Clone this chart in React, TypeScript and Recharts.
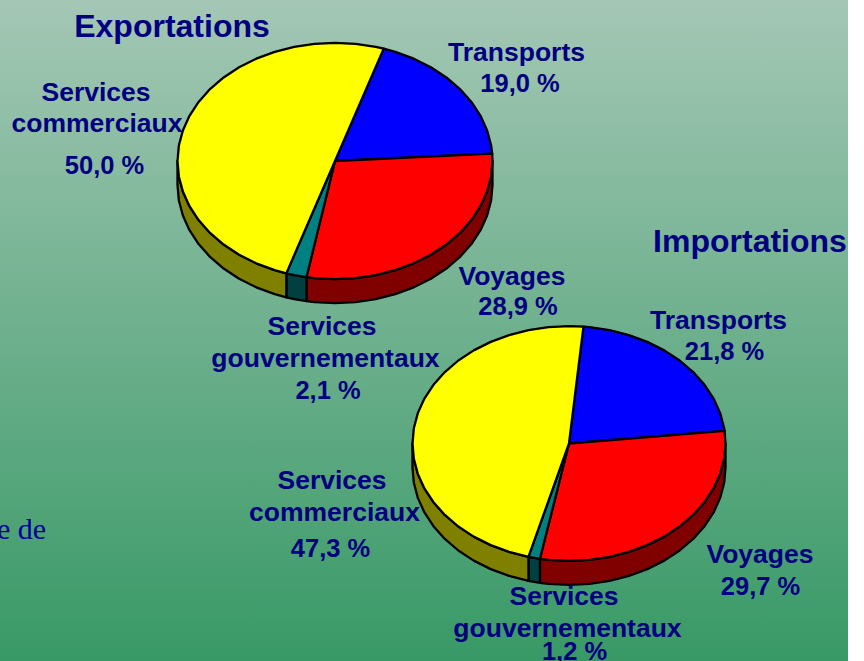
import React from 'react';
import { PieChart, Pie } from 'recharts';

const categories = ['Transports', 'Voyages', 'Services gouvernementaux', 'Services commerciaux'];
const exportValues = [19.0, 28.9, 2.1, 50.0];
const importValues = [21.8, 29.7, 1.2, 47.3];
const topColors = ['#0000ff', '#ff0000', '#008080', '#ffff00'];
const sideColors = ['#000080', '#800000', '#004040', '#808000'];
const titles = ['Exportations', 'Importations'];

const WIDTH = 848;
const HEIGHT = 661;
const TILT = 0.75;
const DEPTH = 24;
const FACET = 7.5;
const NAVY = '#000080';

// Label layout per category: [centre x, baseline y] for each line of text
const exportLayout = [
  { lines: [[516.5, 61], [520, 92]] },
  { lines: [[512, 285], [518, 315]] },
  { lines: [[322, 335], [325.5, 367], [328, 399]] },
  { lines: [[96, 101], [97, 132], [104.5, 174]] },
];
const importLayout = [
  { lines: [[718.5, 329], [724.5, 360]] },
  { lines: [[760, 563], [760.5, 595]] },
  { lines: [[564, 605], [567.5, 637], [574.5, 660]] },
  { lines: [[332, 489], [334.5, 521], [330.5, 557]] },
];

const buildRows = (values: number[]) =>
  categories.map((name, i) => ({ name, value: values[i] }));

const pt = (cx: number, cy: number, r: number, deg: number) => {
  const a = (deg * Math.PI) / 180;
  return [cx + r * Math.cos(a), cy - r * TILT * Math.sin(a)];
};

// Faceted outline between two angles (from > to), like the coarse curve of the original
const rim = (cx: number, cy: number, r: number, from: number, to: number) => {
  const out: number[][] = [pt(cx, cy, r, from)];
  let d = Math.floor(from / FACET) * FACET;
  if (d >= from) d -= FACET;
  for (; d > to; d -= FACET) out.push(pt(cx, cy, r, d));
  out.push(pt(cx, cy, r, to));
  return out;
};

const toPath = (points: number[][]) =>
  points.map((q, i) => `${i ? 'L' : 'M'}${q[0].toFixed(2)},${q[1].toFixed(2)}`).join('') + 'Z';

const TopSlice = (p: any) => {
  const { cx, cy, outerRadius: r, startAngle: s, endAngle: e, index } = p;
  return (
    <path
      d={toPath([[cx, cy], ...rim(cx, cy, r, s, e)])}
      fill={topColors[index]}
      stroke="#000"
      strokeWidth={2.3}
      strokeLinejoin="round"
    />
  );
};

const SideSlice = (p: any) => {
  const { cx, cy, outerRadius: r, startAngle: s, endAngle: e, index } = p;
  const a = Math.min(s, 0);
  const b = Math.max(e, -180);
  if (a <= b) return <g />;
  const upper = rim(cx, cy, r, a, b);
  const lower = upper.map((q) => [q[0], q[1] + DEPTH]).reverse();
  return (
    <path
      d={toPath([...upper, ...lower])}
      fill={sideColors[index]}
      stroke="#000"
      strokeWidth={2.3}
      strokeLinejoin="round"
    />
  );
};

const fmt = (v: number) => `${v.toFixed(1).replace('.', ',')} %`;

const makeLabel = (layout: typeof exportLayout) => (p: any) => {
  const { index, value } = p;
  const names = categories[index].split(' ');
  const texts = [...names, fmt(value)];
  return (
    <g>
      {texts.map((t, i) => (
        <text
          key={t}
          x={layout[index].lines[i][0]}
          y={layout[index].lines[i][1]}
          textAnchor="middle"
          fontFamily="'Liberation Sans', Arial, sans-serif"
          fontWeight="bold"
          fontSize={i === texts.length - 1 ? 25.5 : 26.5}
          fill={NAVY}
        >
          {t}
        </text>
      ))}
    </g>
  );
};

const Title = ({ x, y, children }: { x: number; y: number; children: string }) => (
  <text
    x={x}
    y={y}
    textAnchor="middle"
    fontFamily="'Liberation Sans', Arial, sans-serif"
    fontWeight="bold"
    fontSize={32}
    fill={NAVY}
  >
    {children}
  </text>
);

export default function App() {
  const exportRows = buildRows(exportValues);
  const importRows = buildRows(importValues);
  const common = {
    dataKey: 'value',
    nameKey: 'name',
    innerRadius: 0,
    isAnimationActive: false,
    labelLine: false,
    stroke: '#000',
  };
  return (
    <div
      style={{
        position: 'absolute',
        left: 0,
        top: 0,
        width: WIDTH,
        height: HEIGHT,
        background: 'linear-gradient(to bottom, #a4c7b5 0%, #389966 100%)',
      }}
    >
      <PieChart width={WIDTH} height={HEIGHT} margin={{ top: 0, right: 0, bottom: 0, left: 0 }}>
        <Pie {...common} data={exportRows} outerRadius={157.5} cx={335} cy={161} startAngle={72} endAngle={-288} shape={SideSlice} label={false} />
        <Pie {...common} data={exportRows} outerRadius={157.5} cx={335} cy={161} startAngle={72} endAngle={-288} shape={TopSlice} label={makeLabel(exportLayout)} />
        <Pie {...common} data={importRows} outerRadius={156.5} cx={569} cy={443.5} startAngle={84.7} endAngle={-275.3} shape={SideSlice} label={false} />
        <Pie {...common} data={importRows} outerRadius={156.5} cx={569} cy={443.5} startAngle={84.7} endAngle={-275.3} shape={TopSlice} label={makeLabel(importLayout)} />
        <Title x={172} y={37}>{titles[0]}</Title>
        <Title x={750} y={252}>{titles[1]}</Title>
        <text x={-3} y={539} fontFamily="'Liberation Serif', 'Times New Roman', serif" fontSize={30} fill="#0000a0">e de</text>
      </PieChart>
    </div>
  );
}
